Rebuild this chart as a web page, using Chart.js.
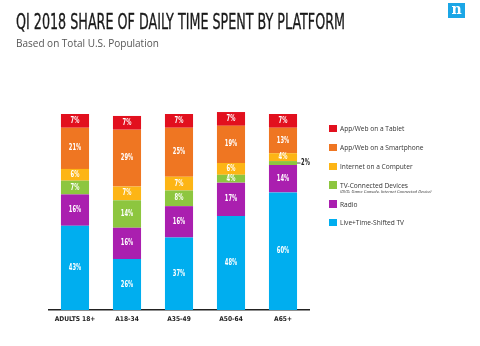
<!DOCTYPE html>
<html><head><meta charset="utf-8">
<script src="https://cdn.jsdelivr.net/npm/chart.js@4"></script>
<style>
html,body{margin:0;padding:0;background:#fff;}
#wrap{position:relative;width:480px;height:346px;overflow:hidden;}
#c{position:absolute;left:0;top:0;}
#title{position:absolute;left:16px;top:10px;font-family:'DejaVu Sans Condensed','DejaVu Sans',sans-serif;font-size:21px;line-height:24px;color:#1a1a1a;white-space:nowrap;transform-origin:0 0;letter-spacing:0;-webkit-text-stroke:0.3px #1a1a1a;}
#sub{position:absolute;left:16px;top:36px;font-family:'Open Sans',sans-serif;font-size:10px;line-height:14px;color:#555;white-space:nowrap;}
#logo{position:absolute;left:448px;top:3px;width:17px;height:15px;background:#1ba6e6;color:#fff;font-family:'DejaVu Serif',serif;font-weight:bold;font-size:14px;line-height:13px;text-align:center;}
#legend{position:absolute;left:0;top:0;}
.li{position:absolute;left:329px;font-family:'Open Sans',sans-serif;font-size:6.6px;color:#333;white-space:nowrap;}
.sw{position:absolute;left:0;width:7.5px;height:7.5px;}
.lt{position:absolute;left:11px;top:-4.5px;line-height:9px;}
.ls{position:absolute;left:11px;top:3px;font-size:4.3px;font-style:italic;line-height:6px;}
</style></head>
<body><div id="wrap">
<canvas id="c" width="480" height="346"></canvas>
<div id="title">QI 2018 SHARE OF DAILY TIME SPENT BY PLATFORM</div>
<div id="sub">Based on Total U.S. Population</div>
<div id="logo">n</div>
<div id="legend"></div>
</div>
<script>
const categories = ['ADULTS 18+', 'A18-34', 'A35-49', 'A50-64', 'A65+'];
const seriesNames = ['Live+Time-Shifted TV', 'Radio', 'TV-Connected Devices', 'Internet on a Computer', 'App/Web on a Smartphone', 'App/Web on a Tablet'];
const liveTV      = [43, 26, 37, 48, 60];
const radio       = [16, 16, 16, 17, 14];
const tvConnected = [7, 14, 8, 4, 2];
const internet    = [6, 7, 7, 6, 4];
const smartphone  = [21, 29, 25, 19, 13];
const tablet      = [7, 7, 7, 7, 7];
const colors = ['#00aeef', '#aa1faf', '#8dc63f', '#fdb515', '#ef7622', '#e2101e'];
const legendOrder = [5, 4, 3, 2, 1, 0];
const legendNote = '(DVD, Game Console, Internet Connected Device)';

const values = [liveTV, radio, tvConnected, internet, smartphone, tablet];

// legend (HTML)
const lg = document.getElementById('legend');
const legendY = [128.5, 147.3, 166.5, 185, 204, 222.5];
legendOrder.forEach((si, i) => {
  const d = document.createElement('div');
  d.className = 'li';
  d.style.top = legendY[i] + 'px';
  d.innerHTML = '<div class="sw" style="top:-3.75px;background:' + colors[si] + '"></div><div class="lt">' + seriesNames[si] + '</div>' +
    (si === 2 ? '<div class="ls">' + legendNote + '</div>' : '');
  lg.appendChild(d);
});

// fit title width
const t = document.getElementById('title');
const w = t.getBoundingClientRect().width;
t.style.transform = 'scaleX(' + (329 / w) + ')';

const labelPlugin = {
  id: 'vals',
  afterDatasetsDraw(chart) {
    const ctx = chart.ctx;
    ctx.save();
    ctx.textAlign = 'center';
    ctx.textBaseline = 'middle';
    chart.data.datasets.forEach((ds, di) => {
      const meta = chart.getDatasetMeta(di);
      meta.data.forEach((el, i) => {
        const v = ds.data[i];
        const yc = (el.y + el.base) / 2;
        const h = Math.abs(el.base - el.y);
        ctx.save();
        ctx.font = 'bold 8px "DejaVu Sans Condensed", sans-serif';
        if (h < 7) {
          const x0 = el.x + el.width / 2;
          ctx.strokeStyle = '#222';
          ctx.lineWidth = 0.8;
          ctx.beginPath();
          ctx.moveTo(x0, yc);
          ctx.lineTo(x0 + 3.5, yc);
          ctx.stroke();
          ctx.translate(x0 + 4, yc);
          ctx.scale(0.72, 1);
          ctx.textAlign = 'left';
          ctx.fillStyle = '#222';
          ctx.fillText(v + '%', 0, 0);
        } else {
          ctx.translate(el.x, yc);
          ctx.scale(0.72, 1);
          ctx.fillStyle = '#fff';
          ctx.fillText(v + '%', 0, 0);
        }
        ctx.restore();
      });
    });
    ctx.restore();
  }
};

new Chart(document.getElementById('c'), {
  type: 'bar',
  data: {
    labels: categories,
    datasets: values.map((arr, i) => ({
      label: seriesNames[i],
      data: arr,
      backgroundColor: colors[i],
      borderWidth: 0,
      barPercentage: 0.54,
      categoryPercentage: 1,
      clip: false
    }))
  },
  options: {
    responsive: false,
    animation: false,
    devicePixelRatio: 1,
    layout: { padding: { left: 49, right: 171, top: 114, bottom: 18 } },
    plugins: { legend: { display: false }, tooltip: { enabled: false }, title: { display: false } },
    scales: {
      x: {
        stacked: true,
        grid: { display: false, drawTicks: false },
        border: { display: true, color: '#222', width: 1.5 },
        ticks: { color: '#222', padding: 5, font: { family: '"Liberation Sans Narrow", "DejaVu Sans Condensed", sans-serif', size: 6.6, weight: 'bold' } }
      },
      y: {
        stacked: true, display: false, min: 0, max: 100
      }
    }
  },
  plugins: [labelPlugin]
});
</script>
</body></html>
